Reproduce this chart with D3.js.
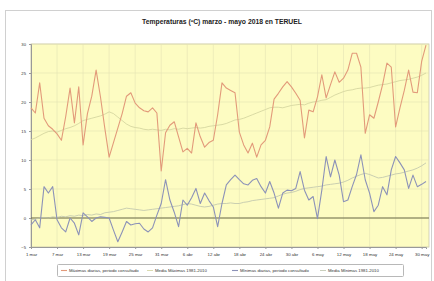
<!DOCTYPE html>
<html><head><meta charset="utf-8">
<script src="https://cdn.jsdelivr.net/npm/d3@7"></script>
<style>body{margin:0;background:#fff}svg{display:block;font-family:Arial,"Liberation Sans",sans-serif}</style>
</head><body><svg id="c" width="434" height="281"></svg>
<script>
const title = "Temperaturas (ºC) marzo - mayo 2018 en TERUEL";
const xTickLabels = ["1 mar","7 mar","13 mar","19 mar","25 mar","31 mar","6 abr","12 abr","18 abr","24 abr","30 abr","6 may","12 may","18 may","24 may","30 may"];
const yTicks = [-5,0,5,10,15,20,25,30];
const seriesNames = ["Máximas diarias, periodo consultado","Media Máximas 1981-2010","Mínimas diarias, periodo consultado","Media Mínimas 1981-2010"];
const maxDaily = [19.0,18.1,23.3,17.2,15.9,15.3,14.5,13.4,17.5,22.4,16.4,22.6,12.6,18.0,21.0,25.5,20.9,15.5,10.5,13.0,15.5,18.0,21.0,21.6,19.8,19.0,18.5,18.3,19.0,18.1,8.1,14.7,16.0,16.6,14.0,11.4,12.0,11.2,16.4,14.0,12.2,13.0,13.4,17.8,23.3,22.4,22.0,21.6,14.8,12.6,11.2,12.9,10.5,12.6,13.4,15.7,20.5,21.5,22.6,23.5,22.6,21.5,20.3,13.8,18.6,18.3,20.9,24.7,20.7,23.0,25.2,23.4,24.1,25.5,28.4,28.4,26.0,14.6,17.8,17.2,20.0,23.0,26.7,26.0,15.7,19.0,22.0,25.5,21.7,21.6,27.0,29.8];
const meanMax = [13.5,13.8,14.2,14.6,14.9,15.0,14.8,15.1,15.4,15.6,15.9,16.3,16.8,17.0,17.2,17.4,17.6,17.9,18.3,18.0,17.4,16.8,16.2,15.8,15.6,15.5,15.3,15.2,15.3,15.2,15.1,15.3,15.2,15.4,15.3,15.5,15.4,15.5,15.6,15.5,15.6,15.8,15.9,16.0,16.1,16.3,16.6,16.9,17.0,17.2,17.5,17.8,18.1,18.4,18.7,19.0,19.1,19.1,19.0,19.2,19.4,19.5,19.6,19.5,19.8,20.0,20.1,20.3,20.4,20.8,21.2,21.5,21.8,22.0,22.1,22.3,22.4,22.4,22.5,22.7,22.9,23.0,23.1,23.3,23.5,23.7,23.8,23.9,24.1,24.3,24.6,25.0];
const minDaily = [-1.2,-0.3,-1.7,5.4,4.3,5.4,-0.3,-1.7,-2.4,0.0,-0.9,-2.9,0.9,0.2,-0.6,0.0,0.2,0.1,0.0,-2.1,-4.1,-2.4,-0.6,-1.2,-1.0,-0.9,-1.9,-2.4,-1.7,0.5,2.5,6.6,3.1,1.0,-1.5,3.1,2.2,3.5,5.1,2.5,4.3,3.0,1.9,-1.5,2.5,5.7,6.6,7.4,6.6,5.9,5.7,6.5,6.8,5.4,4.3,6.3,4.3,1.7,4.3,4.8,4.7,5.1,8.0,4.8,3.1,3.7,-0.1,4.8,10.6,7.1,10.0,7.4,2.8,3.1,5.4,7.5,10.9,6.6,4.3,1.1,2.2,5.4,4.0,8.3,10.6,9.5,8.3,5.1,7.4,5.4,5.8,6.3];
const meanMin = [-0.3,-0.2,0.0,0.1,0.0,0.2,0.1,0.3,0.2,0.4,0.3,0.5,0.4,0.6,0.5,0.7,0.6,0.9,1.0,1.1,1.3,1.5,1.7,1.6,1.5,1.4,1.3,1.4,1.5,1.6,1.7,1.8,1.9,2.0,2.1,2.3,2.5,2.4,2.2,2.0,1.9,2.0,2.2,2.4,2.5,2.5,2.6,2.5,2.5,2.7,2.8,3.0,3.1,3.2,3.3,3.4,3.5,3.8,4.1,4.3,4.4,4.6,4.9,5.1,5.2,5.3,5.4,5.5,5.7,5.8,5.9,6.0,6.2,6.5,6.9,7.2,7.5,7.7,7.5,7.2,6.9,7.0,7.2,7.4,7.6,7.7,7.9,8.1,8.3,8.6,9.0,9.5];
const colors = ["#e29a7a","#d0d29c","#8c92b8","#bcc3ac"];

const svg = d3.select("#c");
const W=434,H=281;
svg.append("rect").attr("width",W).attr("height",H).attr("fill","#fff");
svg.append("rect").attr("x",5.5).attr("y",10.5).attr("width",426).attr("height",280).attr("fill","none").attr("stroke","#d0d0d0");
svg.append("text").attr("x",222).attr("y",24).attr("text-anchor","middle").attr("font-size",6.8).attr("font-weight","bold").attr("fill","#222").text(title);

const L=31,R=429,T=44,B=247;
const x = d3.scaleLinear().domain([0,91]).range([L,R-3]);
const y = d3.scaleLinear().domain([-5,30]).range([B,T]);

svg.append("rect").attr("x",L).attr("y",T).attr("width",R-L).attr("height",B-T).attr("fill","#fdfcc2").attr("stroke","#c8c8b0").attr("stroke-width",0.8);

const g = svg.append("g");
g.selectAll(".hg").data(yTicks).join("line").attr("x1",L).attr("x2",R).attr("y1",d=>y(d)).attr("y2",d=>y(d)).attr("stroke","#e4e2b4").attr("stroke-width",0.6);
g.selectAll(".vg").data(xTickLabels).join("line").attr("x1",(d,i)=>x(i*6)).attr("x2",(d,i)=>x(i*6)).attr("y1",T).attr("y2",B).attr("stroke","#e4e2b4").attr("stroke-width",0.6);

const yAxis = d3.axisLeft(y).tickValues(yTicks).tickSize(2).tickFormat(d3.format("d"));
const ya = svg.append("g").attr("transform",`translate(${L},0)`).call(yAxis);
ya.select(".domain").attr("stroke","#999");
ya.selectAll("line").attr("stroke","#999");
ya.selectAll("text").attr("font-size",4.2).attr("fill","#333");

const xAxis = d3.axisBottom(x).tickValues(xTickLabels.map((d,i)=>i*6)).tickSize(2).tickFormat((d,i)=>xTickLabels[i]);
const xa = svg.append("g").attr("transform",`translate(0,${B})`).call(xAxis);
xa.select(".domain").attr("stroke","#999");
xa.selectAll("line").attr("stroke","#999");
xa.selectAll("text").attr("font-size",4.4).attr("fill","#333").attr("dy","0.9em");

svg.append("line").attr("x1",L).attr("x2",R).attr("y1",y(0)).attr("y2",y(0)).attr("stroke","#6d6d48").attr("stroke-width",1);

const line = d3.line().x((d,i)=>x(i)).y(d=>y(d));
const series = [maxDaily,meanMax,minDaily,meanMin];
const widths = [1.1,0.8,1.1,0.8];
[1,3,0,2].forEach(k=>{
  svg.append("path").attr("d",line(series[k])).attr("fill","none").attr("stroke",colors[k]).attr("stroke-width",widths[k]).attr("stroke-linejoin","round");
});

const lg = svg.append("g");
lg.append("rect").attr("x",57.5).attr("y",264.5).attr("width",346).attr("height",12).attr("fill","#fff").attr("stroke","#b8b8b8").attr("rx",1);
const lx = [61,147,232,320];
seriesNames.forEach((n,i)=>{
  lg.append("line").attr("x1",lx[i]).attr("x2",lx[i]+6).attr("y1",270.5).attr("y2",270.5).attr("stroke",colors[i]).attr("stroke-width",widths[i]);
  lg.append("text").attr("x",lx[i]+8).attr("y",272).attr("font-size",4.3).attr("fill","#333").text(n);
});
</script></body></html>
